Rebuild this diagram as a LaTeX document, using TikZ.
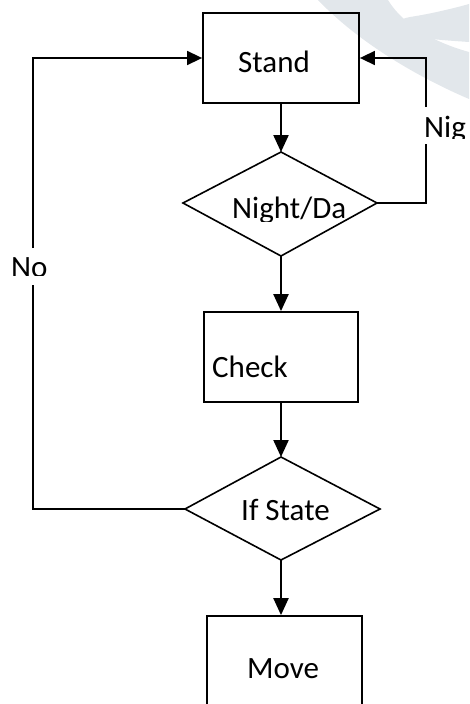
\documentclass[tikz,border=0pt]{standalone}
\usepackage{fontspec}
\setmainfont{Carlito}
\usetikzlibrary{arrows.meta}

\tikzset{
  box/.style={draw, line width=1.8pt, inner sep=0pt},
  edge/.style={line width=1.6pt},
  flow/.style={line width=2.2pt, -{Triangle[length=17pt,width=15pt]}},
  back/.style={line width=1.6pt, -{Triangle[length=15pt,width=14pt]}},
  lbl/.style={anchor=base west, inner sep=0pt, font=\fontsize{31}{37}\selectfont},
}

\begin{document}
\begin{tikzpicture}[x=1pt,y=-1pt]
  \useasboundingbox (0,0) rectangle (469,704);
  \clip (0,0) rectangle (469,704);

  % faint background swoosh
  \fill[color={rgb,255:red,226;green,231;blue,235}]
    (318,0) .. controls (360,44) and (420,78) .. (469,99) -- (469,52)
    .. controls (440,44) and (405,28) .. (388,0) -- cycle;
  \fill[color={rgb,255:red,226;green,231;blue,235}]
    (469,42) .. controls (440,40) and (408,38) .. (399,31)
    .. controls (393,25) and (398,19) .. (410,17)
    .. controls (430,14) and (455,8) .. (469,4) -- cycle;

  % process boxes
  \node[box, minimum width=156pt, minimum height=90pt] (stand) at (281,58) {};
  \node[box, minimum width=154pt, minimum height=90pt] (check) at (281,357) {};
  \node[box, minimum width=155pt, minimum height=100pt] (move) at (284.5,666) {};

  % decision: night or day
  \coordinate (nt) at (281,152);
  \coordinate (nr) at (377,203);
  \coordinate (nb) at (281,256);
  \coordinate (nl) at (183,203);
  \draw[edge, line join=miter] (nt) -- (nr) -- (nb) -- (nl) -- cycle;

  % decision: state
  \coordinate (st) at (281,457);
  \coordinate (sr) at (380,509);
  \coordinate (sb) at (281,560);
  \coordinate (sl) at (185,509);
  \draw[edge, line join=miter] (st) -- (sr) -- (sb) -- (sl) -- cycle;

  % labels
  \node[lbl] (tstand) at (238,72.5) {Stand};
  \node[lbl] (tcheck) at (212,377) {Check};
  \node[lbl] (tmove) at (247,678) {Move};
  \begin{scope}
    \clip (150,140) rectangle (420,221);
    \node[lbl] (tnight) at (232,218) {Night/Da};
  \end{scope}
  \node[lbl] (tstate) at (241,520) {If State};
  \begin{scope}
    \clip (0,240) rectangle (100,275.5);
    \node[lbl] (tno) at (11,277) {No};
  \end{scope}
  \begin{scope}
    \clip (400,100) rectangle (469,138);
    \node[lbl] (tnig) at (424,137) {Nig};
  \end{scope}

  % main flow
  \draw[flow] (stand.south) -- (nt);
  \draw[flow] (nb) -- (check.north);
  \draw[flow] (check.south) -- (st);
  \draw[flow] (sb) -- (sb |- move.north);

  % loop back on night
  \coordinate (rlow) at (426,144);
  \coordinate (rup) at (426,107);
  \draw[edge] (nr) -| (rlow);
  \draw[back] (rup) |- (stand.east);

  % loop back on no change
  \coordinate (llow) at (33,285);
  \coordinate (lup) at (33,248);
  \draw[edge] (sl) -| (llow);
  \draw[back] (lup) |- (stand.west);
\end{tikzpicture}
\end{document}
